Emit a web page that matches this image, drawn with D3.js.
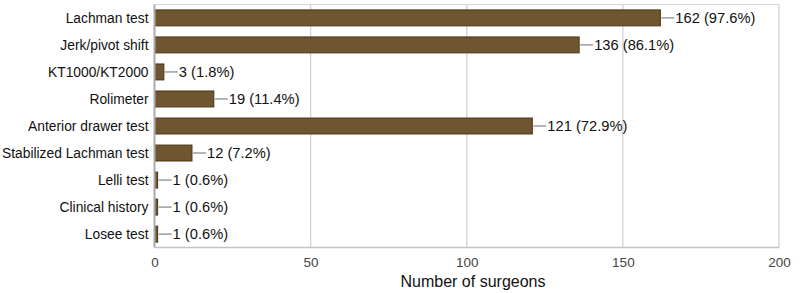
<!DOCTYPE html>
<html>
<head>
<meta charset="utf-8">
<script src="https://cdn.jsdelivr.net/npm/d3@7"></script>
<style>
  body { margin: 0; background: #fff; }
  text { font-family: "Liberation Sans", Arial, sans-serif; }
</style>
</head>
<body>
<div id="chart"></div>
<script>
// data
var categories = ["Lachman test", "Jerk/pivot shift", "KT1000/KT2000", "Rolimeter",
    "Anterior drawer test", "Stabilized Lachman test", "Lelli test", "Clinical history", "Losee test"];
var surgeons = [162, 136, 3, 19, 121, 12, 1, 1, 1];
var percents = ["97.6%", "86.1%", "1.8%", "11.4%", "72.9%", "7.2%", "0.6%", "0.6%", "0.6%"];
var xTicks = [0, 50, 100, 150, 200];

var width = 800, height = 293;
var margin = {top: 4.5, right: 21, bottom: 45.5, left: 154.5};

var svg = d3.select("#chart").append("svg")
    .attr("width", width)
    .attr("height", height);

var x = d3.scaleLinear()
    .domain([0, 200])
    .range([margin.left, width - margin.right]);

var y = d3.scaleBand()
    .domain(categories)
    .range([margin.top, height - margin.bottom])
    .paddingInner(0.41)
    .paddingOuter(0.2);

// gridlines
svg.selectAll("line.grid")
    .data(xTicks.slice(1))
    .enter().append("line")
    .attr("class", "grid")
    .attr("x1", function(d) { return x(d); })
    .attr("x2", function(d) { return x(d); })
    .attr("y1", margin.top)
    .attr("y2", height - margin.bottom)
    .style("stroke", "#cfcfd4")
    .style("stroke-width", 1.2);

// frame: top, bottom
svg.append("line")
    .attr("x1", x(0)).attr("x2", x(200))
    .attr("y1", margin.top).attr("y2", margin.top)
    .style("stroke", "#d6d6dc").style("stroke-width", 1);
svg.append("line")
    .attr("x1", x(0)).attr("x2", x(200))
    .attr("y1", height - margin.bottom).attr("y2", height - margin.bottom)
    .style("stroke", "#c4c4c8").style("stroke-width", 1.5);

// bars
svg.selectAll("rect.bar")
    .data(surgeons)
    .enter().append("rect")
    .attr("class", "bar")
    .attr("x", x(0))
    .attr("y", function(d, i) { return y(categories[i]); })
    .attr("width", function(d) { return x(d) - x(0); })
    .attr("height", y.bandwidth())
    .style("fill", "#6f5530")
    .style("stroke", "#4a3517")
    .style("stroke-width", 1);

// left axis line
svg.append("line")
    .attr("x1", x(0)).attr("x2", x(0))
    .attr("y1", margin.top).attr("y2", height - margin.bottom)
    .style("stroke", "#a9abb0").style("stroke-width", 2);

// leader lines + value labels
svg.selectAll("line.lead")
    .data(surgeons)
    .enter().append("line")
    .attr("class", "lead")
    .attr("x1", function(d) { return x(d) + 1; })
    .attr("x2", function(d) { return x(d) + 14; })
    .attr("y1", function(d, i) { return y(categories[i]) + y.bandwidth() / 2; })
    .attr("y2", function(d, i) { return y(categories[i]) + y.bandwidth() / 2; })
    .style("stroke", "#8a8d92")
    .style("stroke-width", 1.3);

svg.selectAll("text.val")
    .data(surgeons)
    .enter().append("text")
    .attr("class", "val")
    .attr("x", function(d) { return x(d) + 15; })
    .attr("y", function(d, i) { return y(categories[i]) + y.bandwidth() / 2; })
    .attr("dy", "0.36em")
    .style("font-size", "14.7px")
    .style("fill", "#111")
    .text(function(d, i) { return d + " (" + percents[i] + ")"; });

// category labels
svg.selectAll("text.cat")
    .data(categories)
    .enter().append("text")
    .attr("class", "cat")
    .attr("x", margin.left - 6)
    .attr("y", function(d) { return y(d) + y.bandwidth() / 2; })
    .attr("dy", "0.36em")
    .attr("text-anchor", "end")
    .style("font-size", "13.8px")
    .style("fill", "#111")
    .text(function(d) { return d; });

// x axis tick labels
var xAxis = svg.append("g")
    .attr("transform", "translate(0," + (height - margin.bottom) + ")")
    .call(d3.axisBottom(x).tickValues(xTicks).tickSize(0).tickPadding(10));
xAxis.select(".domain").remove();
xAxis.selectAll("text")
    .style("font-family", "'Liberation Sans', Arial, sans-serif")
    .style("font-size", "13.5px")
    .style("fill", "#444");

// axis title
svg.append("text")
    .attr("x", 473)
    .attr("y", 287)
    .attr("text-anchor", "middle")
    .style("font-size", "16px")
    .style("fill", "#111")
    .text("Number of surgeons");
</script>
</body>
</html>
